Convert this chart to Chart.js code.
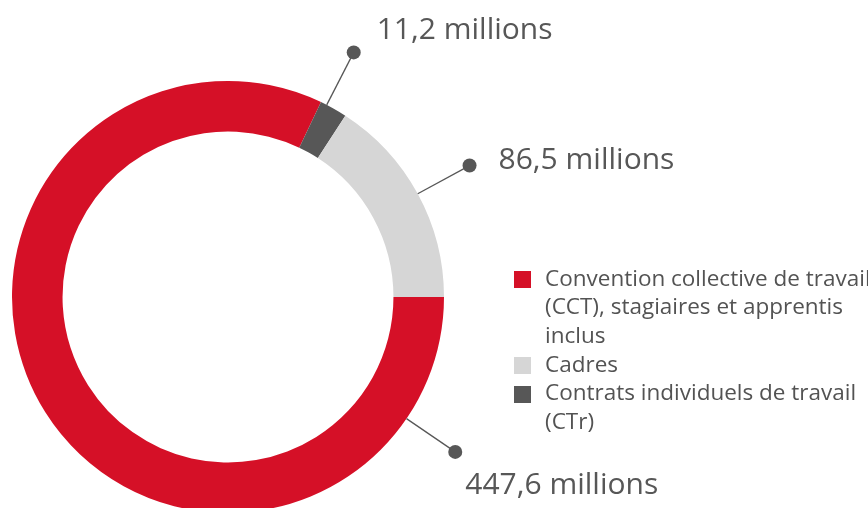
<!DOCTYPE html>
<html lang="fr">
<head>
  <meta charset="UTF-8">
  <title>Masse salariale</title>
  <script src="https://cdn.jsdelivr.net/npm/chart.js"></script>
  <style>
    html, body { margin: 0; padding: 0; background: #fff; }
    .wrap {
      position: relative;
      width: 868px;
      height: 508px;
      overflow: hidden;
      font-family: "Open Sans", sans-serif;
      color: #535353;
    }
    .chart-box {
      position: absolute;
      left: 0;
      top: 0;
      width: 868px;
      height: 540px;
    }
    #legend {
      position: absolute;
      left: 514px;
      top: 263.6px;
      margin: 0;
      padding: 0;
      list-style: none;
      font-size: 22.5px;
      line-height: 28.7px;
      white-space: nowrap;
    }
    #legend li { position: relative; padding-left: 31px; }
    #legend .box {
      position: absolute;
      left: 0;
      top: 7.4px;
      width: 17px;
      height: 17px;
    }
  </style>
</head>
<body>
  <div class="wrap">
    <div class="chart-box"><canvas id="donut"></canvas></div>
    <ul id="legend"></ul>
  </div>
  <script>
    // ring order (clockwise from 3 o'clock)
    const categories = [
      ['Convention collective de travail', '(CCT), stagiaires et apprentis', 'inclus'],
      ['Contrats individuels de travail', '(CTr)'],
      ['Cadres']
    ];
    const values = [447.6, 11.2, 86.5];   // millions
    const colors = ['#d51027', '#575757', '#d6d6d6'];
    const legendOrder = [0, 2, 1];

    // where the callout leaves each slice (fraction of its arc) and text offset from the dot
    const calloutAt = [0.116, 0.23, 0.5];
    const textOffset = [[10, 42], [23, -13], [29, 3]];

    function fmt(v) {
      return v.toFixed(1).replace('.', ',') + ' millions';
    }

    const callouts = {
      id: 'callouts',
      afterDatasetsDraw(chart) {
        const ctx = chart.ctx;
        const arcs = chart.getDatasetMeta(0).data;
        ctx.save();
        arcs.forEach(function (arc, i) {
          const a = arc.startAngle + (arc.endAngle - arc.startAngle) * calloutAt[i];
          const r1 = arc.outerRadius;
          const r2 = arc.outerRadius + 59;
          const x1 = arc.x + Math.cos(a) * r1, y1 = arc.y + Math.sin(a) * r1;
          const x2 = arc.x + Math.cos(a) * r2, y2 = arc.y + Math.sin(a) * r2;
          ctx.strokeStyle = '#575757';
          ctx.lineWidth = 1.3;
          ctx.beginPath();
          ctx.moveTo(x1, y1);
          ctx.lineTo(x2, y2);
          ctx.stroke();
          ctx.fillStyle = '#575757';
          ctx.beginPath();
          ctx.arc(x2, y2, 7, 0, Math.PI * 2);
          ctx.fill();
          ctx.font = '30px "Open Sans"';
          ctx.textAlign = 'left';
          ctx.textBaseline = 'alphabetic';
          ctx.fillText(fmt(values[i]), x2 + textOffset[i][0], y2 + textOffset[i][1]);
        });
        ctx.restore();
      }
    };

    new Chart(document.getElementById('donut'), {
      type: 'doughnut',
      data: {
        labels: categories.map(c => c.join(' ')),
        datasets: [{
          data: values,
          backgroundColor: colors,
          borderWidth: 0,
          hoverOffset: 0
        }]
      },
      options: {
        responsive: true,
        maintainAspectRatio: false,
        animation: false,
        rotation: 90,
        cutout: '76.6%',
        layout: { padding: { left: 12, top: 81, right: 424, bottom: 27 } },
        plugins: {
          legend: { display: false },
          tooltip: { enabled: false }
        }
      },
      plugins: [callouts]
    });

    // legend
    const ul = document.getElementById('legend');
    legendOrder.forEach(function (i) {
      const li = document.createElement('li');
      const box = document.createElement('span');
      box.className = 'box';
      box.style.background = colors[i];
      li.appendChild(box);
      categories[i].forEach(function (line, k) {
        if (k) li.appendChild(document.createElement('br'));
        li.appendChild(document.createTextNode(line));
      });
      ul.appendChild(li);
    });
  </script>
</body>
</html>
